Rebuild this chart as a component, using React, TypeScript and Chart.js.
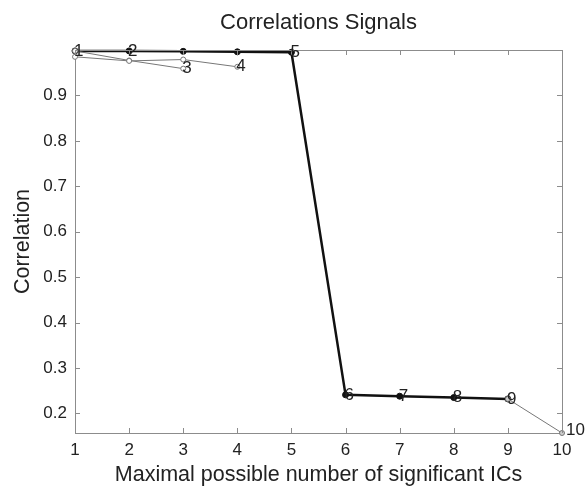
import React, { useEffect, useRef } from "react";
import { Chart, registerables } from "chart.js";

Chart.register(...registerables);

const chartTitle = "Correlations Signals";
const xValues = [1, 2, 3, 4, 5, 6, 7, 8, 9, 10];
const seriesMain = [0.998, 0.998, 0.997, 0.996, 0.995, 0.241, 0.238, 0.235, 0.232, null];
const seriesB = [0.998, 0.977, 0.959, null, null, null, null, null, null, null];
const seriesC = [0.985, 0.976, 0.979, 0.963, null, null, null, null, null, null];
const seriesTail = [null, null, null, null, null, null, null, null, 0.232, 0.157];
const pointLabels = ["1", "2", "3", "4", "5", "6", "7", "8", "9", "10"];
const pointLabelY = [0.998, 0.998, 0.959, 0.963, 0.995, 0.241, 0.238, 0.235, 0.232, 0.157];
const xTicks = [1, 2, 3, 4, 5, 6, 7, 8, 9, 10];
const yTicks = [0.2, 0.3, 0.4, 0.5, 0.6, 0.7, 0.8, 0.9];
const yMin = 0.157;
const yMax = 1.0;

const FONT = '"Liberation Sans", Arial, Helvetica, sans-serif';

const toPts = (arr: (number | null)[]) =>
  xValues.map((x, i) => ({ x, y: arr[i] }));

const annotPlugin = {
  id: "annot",
  afterDatasetsDraw(chart: any) {
    const { ctx, chartArea, scales } = chart;
    const { left, right, top, bottom } = chartArea;
    const xs = scales.x;
    const ys = scales.y;
    ctx.save();
    ctx.strokeStyle = "#8c8c8c";
    ctx.lineWidth = 1;
    ctx.beginPath();
    ctx.moveTo(left, Math.round(top) + 0.5);
    ctx.lineTo(right, Math.round(top) + 0.5);
    ctx.moveTo(Math.round(right) + 0.5, top);
    ctx.lineTo(Math.round(right) + 0.5, bottom);
    xTicks.forEach((v) => {
      const px = Math.round(xs.getPixelForValue(v)) + 0.5;
      ctx.moveTo(px, bottom);
      ctx.lineTo(px, bottom - 5);
      ctx.moveTo(px, top);
      ctx.lineTo(px, top + 5);
    });
    yTicks.forEach((v) => {
      const py = Math.round(ys.getPixelForValue(v)) + 0.5;
      ctx.moveTo(left, py);
      ctx.lineTo(left + 5, py);
      ctx.moveTo(right, py);
      ctx.lineTo(right - 5, py);
    });
    ctx.stroke();

    ctx.fillStyle = "#222";
    ctx.textAlign = "center";
    ctx.textBaseline = "middle";
    ctx.font = `22px ${FONT}`;
    ctx.fillText(chartTitle, (left + right) / 2, 23);

    ctx.font = `17px ${FONT}`;
    ctx.textAlign = "left";
    pointLabels.forEach((t, i) => {
      const px = xs.getPixelForValue(xValues[i]);
      const py = ys.getPixelForValue(pointLabelY[i]);
      const dx = i === 9 ? 4 : -1;
      const dy = i === 9 ? -3 : 0;
      ctx.fillText(t, px + dx, py + dy);
    });
    ctx.restore();
  },
};

export default function App() {
  const ref = useRef<HTMLCanvasElement | null>(null);
  useEffect(() => {
    if (!ref.current) return;
    const chart = new Chart(ref.current, {
      type: "line",
      data: {
        datasets: [
          {
            data: toPts(seriesC),
            borderColor: "#777",
            borderWidth: 1,
            pointRadius: 2.5,
            pointBackgroundColor: "#fff",
            pointBorderColor: "#777",
            pointBorderWidth: 1,
            clip: false,
          },
          {
            data: toPts(seriesB),
            borderColor: "#777",
            borderWidth: 1,
            pointRadius: 2.5,
            pointBackgroundColor: "#fff",
            pointBorderColor: "#777",
            pointBorderWidth: 1,
            clip: false,
          },
          {
            data: toPts(seriesTail),
            borderColor: "#777",
            borderWidth: 1,
            pointRadius: 2.5,
            pointBackgroundColor: "#ccc",
            pointBorderColor: "#777",
            pointBorderWidth: 1,
            clip: false,
          },
          {
            data: toPts(seriesMain),
            borderColor: "#111",
            borderWidth: 2.5,
            pointRadius: 3,
            pointBackgroundColor: "#111",
            pointBorderColor: "#111",
            pointBorderWidth: 1,
            clip: false,
          },
        ],
      },
      options: {
        responsive: false,
        animation: false,
        devicePixelRatio: 1,
        spanGaps: false,
        layout: { padding: { left: 0, right: 25, top: 50, bottom: 0 } },
        plugins: {
          legend: { display: false },
          tooltip: { enabled: false },
          title: { display: false },
        },
        scales: {
          x: {
            type: "linear",
            min: 1,
            max: 10,
            afterBuildTicks: (s: any) => {
              s.ticks = xTicks.map((v) => ({ value: v }));
            },
            afterFit: (s: any) => {
              s.height = 53;
            },
            grid: { display: false, drawTicks: false },
            border: { display: true, color: "#8c8c8c", width: 1 },
            ticks: {
              color: "#222",
              padding: 7,
              maxRotation: 0,
              font: { family: FONT, size: 17 },
            },
            title: {
              display: true,
              text: "Maximal possible number of significant ICs",
              color: "#222",
              font: { family: FONT, size: 21.5, lineHeight: 1 },
              padding: { top: 0, bottom: 0 },
            },
          },
          y: {
            type: "linear",
            min: yMin,
            max: yMax,
            afterBuildTicks: (s: any) => {
              s.ticks = yTicks.map((v) => ({ value: v }));
            },
            afterFit: (s: any) => {
              s.width = 75;
            },
            grid: { display: false, drawTicks: false },
            border: { display: true, color: "#8c8c8c", width: 1 },
            ticks: {
              color: "#222",
              padding: 8,
              font: { family: FONT, size: 17 },
              callback: (v: any) => Number(v).toFixed(1),
            },
            title: {
              display: true,
              text: "Correlation",
              color: "#222",
              font: { family: FONT, size: 21.5, lineHeight: 1 },
              padding: { top: 12, bottom: 0 },
            },
          },
        },
      },
      plugins: [annotPlugin],
    } as any);
    return () => chart.destroy();
  }, []);
  return (
    <div style={{ position: "absolute", left: 0, top: 0, width: 587, height: 486, background: "#fff" }}>
      <canvas ref={ref} width={587} height={486} style={{ display: "block" }} />
    </div>
  );
}
